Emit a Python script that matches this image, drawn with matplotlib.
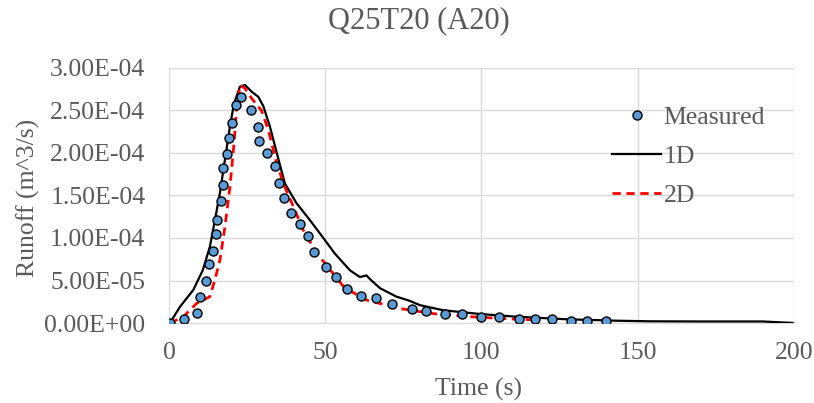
import matplotlib.pyplot as plt
from matplotlib.ticker import FuncFormatter

plt.rcParams["font.family"] = ["Liberation Serif", "DejaVu Serif"]

# measured points (time s, runoff m^3/s)
meas_t = [0.3, 4.8, 8.9, 9.9, 12.0, 12.9, 14.2, 15.0, 15.5, 16.5, 17.4, 17.4,
          18.5, 19.3, 20.2, 21.4, 23.1, 26.1, 28.6, 28.9, 31.5, 33.8, 35.1,
          36.8, 38.9, 41.9, 44.4, 46.4, 50.3, 53.6, 57.0, 61.5, 66.2, 71.4,
          77.8, 82.4, 88.2, 93.8, 100.0, 105.7, 111.9, 117.2, 122.7, 128.7,
          133.8, 140.0]
meas_q = [0.0, 4.4e-6, 1.14e-5, 3.1e-5, 4.98e-5, 6.94e-5, 8.47e-5, 1.047e-4,
          1.21e-4, 1.43e-4, 1.62e-4, 1.82e-4, 1.99e-4, 2.18e-4, 2.35e-4,
          2.57e-4, 2.66e-4, 2.51e-4, 2.30e-4, 2.14e-4, 2.0e-4, 1.85e-4,
          1.65e-4, 1.47e-4, 1.29e-4, 1.16e-4, 1.02e-4, 8.35e-5, 6.6e-5,
          5.4e-5, 4.04e-5, 3.2e-5, 2.9e-5, 2.2e-5, 1.6e-5, 1.45e-5, 1.06e-5,
          1.06e-5, 7.4e-6, 7.4e-6, 4.4e-6, 4.4e-6, 5.0e-6, 2.0e-6, 2.7e-6,
          2.7e-6]

# 1D model
d1_t = [0.3, 3.5, 7.8, 10.8, 13.1, 14.7, 16.3, 17.9, 19.5, 20.8, 22.7, 24.3,
        26.5, 28.6, 30.2, 32.3, 34.5, 37.1, 40.8, 45.1, 49.4, 53.0, 57.9,
        61.1, 63.2, 64.5, 67.5, 72.8, 77.1, 80.3, 87.8, 99.5, 111.2, 127.2,
        143.2, 153.9, 170.0, 190.0, 200.0]
d1_q = [0.0, 1.9e-5, 3.9e-5, 6.2e-5, 9.0e-5, 1.21e-4, 1.53e-4, 1.92e-4,
        2.31e-4, 2.58e-4, 2.78e-4, 2.80e-4, 2.72e-4, 2.66e-4, 2.55e-4,
        2.31e-4, 2.0e-4, 1.64e-4, 1.41e-4, 1.21e-4, 1.0e-4, 8.2e-5, 6.2e-5,
        5.4e-5, 5.6e-5, 5.1e-5, 4.1e-5, 3.1e-5, 2.6e-5, 2.1e-5, 1.5e-5,
        1.06e-5, 7.4e-6, 4.4e-6, 2.7e-6, 2.0e-6, 1.8e-6, 1.8e-6, 0.0]

# 2D model
d2_t = [0.3, 4.5, 8.8, 13.1, 14.7, 16.3, 17.9, 19.5, 20.8, 21.6, 22.7, 24.3,
        26.5, 29.6, 31.8, 33.9, 36.6, 39.8, 43.0, 47.3, 52.6, 55.8, 61.1,
        63.2, 73.9, 84.6, 96.3, 108.0, 118.7]
d2_q = [0.0, 7e-6, 2.3e-5, 3.1e-5, 5.1e-5, 7.4e-5, 1.13e-4, 1.6e-4, 2.11e-4,
        2.5e-4, 2.8e-4, 2.76e-4, 2.64e-4, 2.5e-4, 2.27e-4, 1.96e-4, 1.64e-4,
        1.37e-4, 1.09e-4, 8.2e-5, 5.8e-5, 4.3e-5, 3.1e-5, 2.7e-5, 1.7e-5,
        1.1e-5, 7.4e-6, 5.0e-6, 3.5e-6]

x_ticks = [0, 50, 100, 150, 200]
y_ticks = [0, 5e-5, 1e-4, 1.5e-4, 2e-4, 2.5e-4, 3e-4]

grey = "#595959"
grid = "#d9d9d9"

fig = plt.figure(figsize=(8.14, 4.03), dpi=100)
ax = fig.add_axes([0.2076, 0.1985, 0.7678, 0.6328])

ax.plot(meas_t, meas_q, linestyle="none", marker="o", markersize=6.5,
        markerfacecolor="#5b9bd5", markeredgecolor="black",
        markeredgewidth=1.0, label="Measured", zorder=4)
ax.plot(d1_t, d1_q, color="black", linewidth=1.6, label="1D", zorder=3)
ax.plot(d2_t, d2_q, color="#ff0000", linewidth=2.0, linestyle=(0, (3, 2)),
        label="2D", zorder=3)

ax.set_xlim(0, 200)
ax.set_ylim(0, 3e-4)
ax.set_xticks(x_ticks)
ax.set_yticks(y_ticks)
ax.yaxis.set_major_formatter(FuncFormatter(lambda v, p: f"{v:.2E}"))
ax.grid(True, color=grid, linewidth=1.0)
ax.set_axisbelow(True)
for side in ["top", "right", "left"]:
    ax.spines[side].set_visible(False)
ax.spines["bottom"].set_color(grid)
ax.tick_params(length=0, labelsize=18.5, colors=grey)
ax.tick_params(axis="x", pad=14)
ax.tick_params(axis="y", pad=17)

ax.set_xlabel("Time (s)", fontsize=18.5, color=grey)
ax.xaxis.set_label_coords(0.495, -0.215)
ax.set_ylabel("Runoff (m^3/s)", fontsize=18.5, color=grey)
ax.yaxis.set_label_coords(-0.206, 0.49)
fig.text(0.514, 0.930, "Q25T20 (A20)", fontsize=22, color=grey,
         ha="center", va="baseline")

leg = ax.legend(loc="upper left", bbox_to_anchor=(0.752, 0.737),
                bbox_transform=fig.transFigure, frameon=False,
                fontsize=18.5, handlelength=1.9, labelspacing=0.62,
                handletextpad=0.1, borderpad=0, borderaxespad=0)
for t in leg.get_texts():
    t.set_color(grey)

fig.savefig("out.png", dpi=100)
